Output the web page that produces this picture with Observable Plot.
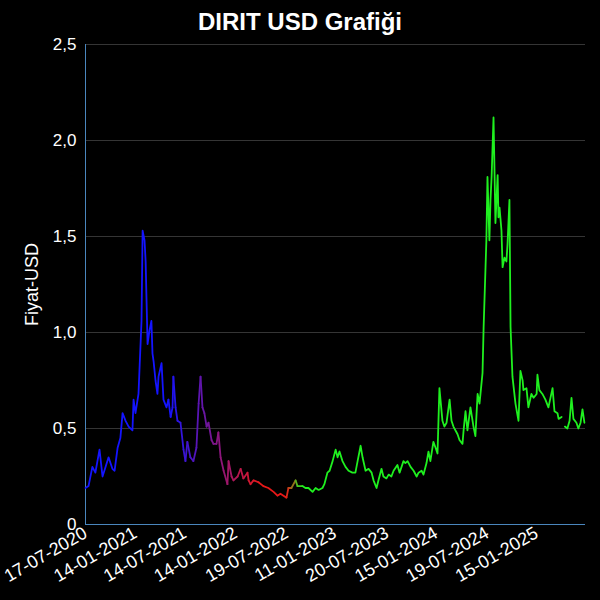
<!DOCTYPE html>
<html>
<head>
<meta charset="utf-8">
<script src="https://cdn.jsdelivr.net/npm/d3@7"></script>
<script src="https://cdn.jsdelivr.net/npm/@observablehq/plot@0.6"></script>
<style>
  html, body { margin: 0; padding: 0; background: #000; }
  #wrap { position: relative; width: 600px; height: 600px; background: #000; }
  #title { position: absolute; top: 10px; left: 0; width: 600px; text-align: center;
           font: bold 24px "Liberation Sans", Arial, sans-serif; line-height: 24px; color: #fff; }
</style>
</head>
<body>
<div id="wrap"><div id="title">DIRIT USD Grafiği</div><div id="chart"></div></div>
<script>
const dates = ["2020-07-17","2020-07-28","2020-08-11","2020-08-22","2020-09-06","2020-09-17","2020-09-28","2020-10-09","2020-10-23","2020-10-31","2020-11-11","2020-11-21","2020-11-29","2020-12-10","2020-12-21","2021-01-04","2021-01-08","2021-01-15","2021-01-26","2021-01-30","2021-02-06","2021-02-10","2021-02-17","2021-02-21","2021-02-28","2021-03-07","2021-03-14","2021-03-18","2021-03-22","2021-03-29","2021-04-05","2021-04-09","2021-04-20","2021-04-27","2021-05-08","2021-05-15","2021-05-23","2021-05-30","2021-06-02","2021-06-10","2021-06-17","2021-06-28","2021-07-09","2021-07-16","2021-07-23","2021-08-03","2021-08-14","2021-08-25","2021-09-02","2021-09-09","2021-09-16","2021-09-23","2021-10-01","2021-10-08","2021-10-19","2021-10-26","2021-11-06","2021-11-13","2021-11-21","2021-12-02","2021-12-16","2021-12-20","2021-12-31","2022-01-07","2022-01-22","2022-02-02","2022-02-12","2022-02-27","2022-03-03","2022-03-10","2022-03-21","2022-04-08","2022-04-26","2022-05-14","2022-06-02","2022-06-16","2022-06-27","2022-07-08","2022-07-19","2022-07-26","2022-08-06","2022-08-21","2022-08-28","2022-09-15","2022-09-26","2022-10-07","2022-10-22","2022-11-02","2022-11-13","2022-11-27","2022-12-04","2022-12-15","2022-12-23","2023-01-03","2023-01-14","2023-01-21","2023-01-28","2023-02-08","2023-02-19","2023-03-02","2023-03-16","2023-03-27","2023-04-04","2023-04-15","2023-04-22","2023-05-03","2023-05-14","2023-05-25","2023-06-01","2023-06-12","2023-06-19","2023-06-30","2023-07-07","2023-07-18","2023-07-26","2023-08-05","2023-08-13","2023-08-27","2023-09-04","2023-09-18","2023-09-25","2023-10-03","2023-10-14","2023-10-25","2023-11-05","2023-11-12","2023-11-23","2023-11-30","2023-12-11","2023-12-18","2023-12-25","2024-01-05","2024-01-13","2024-01-20","2024-01-27","2024-02-07","2024-02-14","2024-02-22","2024-03-04","2024-03-11","2024-03-18","2024-04-02","2024-04-09","2024-04-20","2024-04-24","2024-05-01","2024-05-08","2024-05-19","2024-05-30","2024-06-06","2024-06-14","2024-06-21","2024-07-02","2024-07-06","2024-07-16","2024-07-20","2024-07-27","2024-07-31","2024-08-04","2024-08-11","2024-08-15","2024-08-18","2024-08-26","2024-08-29","2024-09-02","2024-09-09","2024-09-13","2024-09-20","2024-09-27","2024-10-01","2024-10-08","2024-10-12","2024-10-19","2024-10-30","2024-11-10","2024-11-17","2024-11-25","2024-11-28","2024-12-09","2024-12-16","2024-12-27","2025-01-04","2025-01-15","2025-01-18","2025-01-25","2025-02-05","2025-02-16","2025-02-27","2025-03-14","2025-03-21","2025-04-01","2025-04-05","2025-04-16","2025-04-22","2025-04-28","2025-05-07","2025-05-15","2025-05-22","2025-05-29","2025-06-09","2025-06-16","2025-06-24","2025-07-01","2025-07-08"];

const prices = [0.19,0.20,0.30,0.27,0.39,0.25,0.30,0.35,0.29,0.28,0.40,0.45,0.58,0.54,0.51,0.49,0.65,0.58,0.68,0.82,1.06,1.53,1.48,1.37,0.94,1.01,1.06,0.89,0.85,0.75,0.68,0.77,0.84,0.65,0.61,0.65,0.56,0.61,0.77,0.61,0.54,0.53,
0.39,0.33,0.43,0.35,0.33,0.40,0.63,0.77,0.61,0.58,0.51,0.53,0.44,0.42,0.42,0.48,0.35,0.28,0.21,0.33,0.25,0.23,0.25,0.29,0.24,0.27,0.23,0.21,0.23,0.22,0.20,0.19,0.17,0.15,0.16,0.15,0.14,0.19,0.19,0.23,0.20,0.20,
0.19,0.19,0.17,0.19,0.18,0.19,0.21,0.27,0.28,0.33,0.39,0.35,0.38,0.33,0.30,0.28,0.27,0.27,0.33,0.41,0.35,0.28,0.29,0.27,0.23,0.19,0.23,0.29,0.25,0.24,0.26,0.25,0.28,0.31,0.27,0.33,0.32,0.33,0.30,0.28,0.25,0.27,0.28,0.26,0.32,0.38,0.33,0.43,0.40,0.37,0.71,
0.54,0.51,0.53,0.65,0.54,0.51,0.47,0.44,0.42,0.49,0.59,0.49,0.61,0.51,0.46,0.68,0.63,0.79,1.03,1.48,1.81,1.48,1.69,1.81,2.12,1.81,1.57,1.82,1.60,1.65,1.53,1.34,1.39,1.37,1.46,1.69,1.03,0.77,0.63,0.54,
0.80,0.75,0.70,0.71,0.61,0.68,0.66,0.68,0.78,0.70,0.68,0.65,0.61,0.71,0.59,0.58,0.55,0.56,null,0.51,0.50,0.54,0.66,0.55,0.53,0.50,0.53,0.60,0.53];

const tickDates = ["2020-07-17","2021-01-14","2021-07-14","2022-01-14","2022-07-19","2023-01-11","2023-07-20","2024-01-15","2024-07-19","2025-01-15"];
const yTicks = [0, 0.5, 1, 1.5, 2, 2.5];
const xStartEnd = ["2020-07-17", "2025-07-12"];
const colorStopDates = ["2021-05-10", "2022-04-10", "2022-07-15", "2022-09-05"];
const colorStops = ["#1414ff", "#e81818", "#e81818", "#1ff01f"];

const parse = d3.utcParse("%Y-%m-%d");
const table = dates.map((d, i) => ({date: parse(d), price: prices[i]}));
const colorOf = d3.scaleUtc().domain(colorStopDates.map(parse)).range(colorStops)
  .interpolate(d3.interpolateRgb).clamp(true);
const fmtDate = d3.utcFormat("%d-%m-%Y");
const fmtY = d => d === 0 ? "0" : d.toFixed(1).replace(".", ",");
const axisColor = "#4a86bd";
const xDomain = xStartEnd.map(parse);

const chart = Plot.plot({
  width: 600,
  height: 600,
  marginLeft: 85,
  marginRight: 15,
  marginTop: 44,
  marginBottom: 76,
  style: {background: "#000", color: "#fff", fontFamily: "'Liberation Sans', Arial, sans-serif"},
  x: {type: "utc", domain: xDomain},
  y: {domain: [0, 2.5]},
  marks: [
    Plot.gridY(yTicks, {stroke: "#353535", strokeOpacity: 1, strokeWidth: 1}),
    Plot.ruleY([0], {stroke: axisColor, strokeWidth: 1}),
    Plot.ruleX([xDomain[0]], {stroke: axisColor, strokeWidth: 1}),
    Plot.line(table, {x: "date", y: "price", z: null, stroke: d => colorOf(d.date), strokeWidth: 1.8}),
    Plot.axisY(yTicks, {tickFormat: fmtY, tickSize: 0, tickPadding: 9, fontSize: 17, label: null}),
    Plot.axisX(tickDates.map(parse), {tickFormat: fmtDate, tickRotate: -30, tickSize: 0, tickPadding: 7, fontSize: 18, label: null}),
    Plot.text(["Fiyat-USD"], {frameAnchor: "left", dx: -53, rotate: -90, textAnchor: "middle", fontSize: 18, fill: "#fff"})
  ]
});
document.getElementById("chart").appendChild(chart);
</script>
</body>
</html>
